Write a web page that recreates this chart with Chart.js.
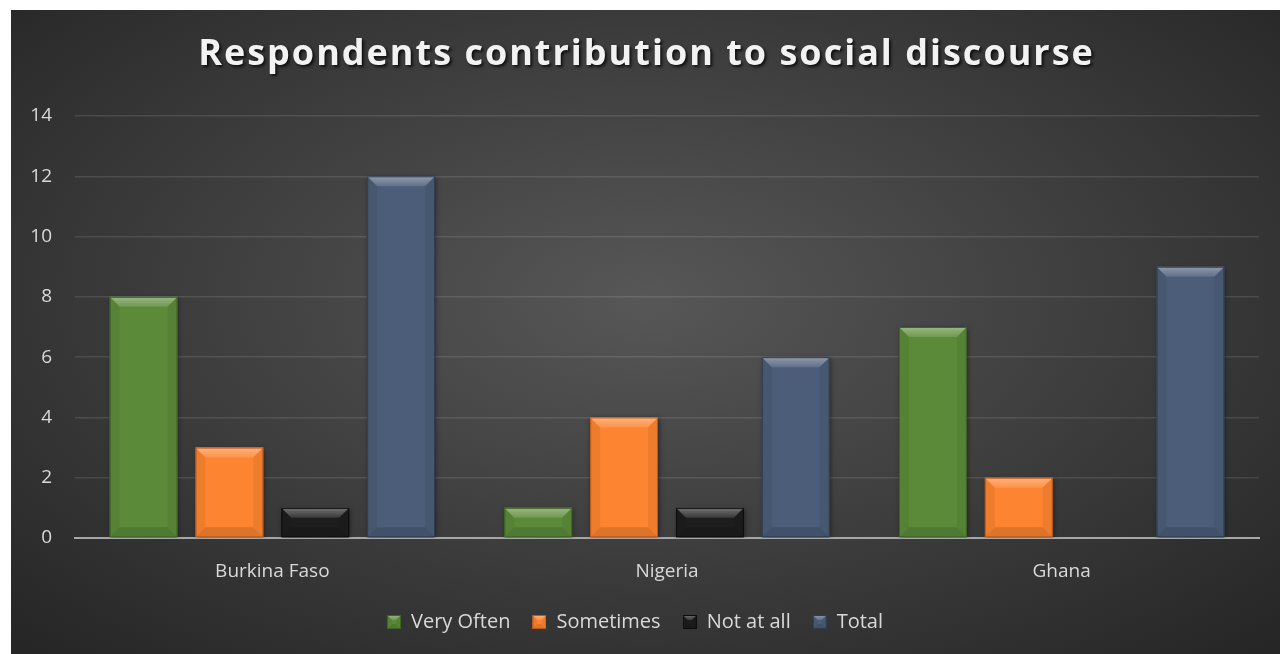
<!DOCTYPE html>
<html>
<head>
<meta charset="utf-8">
<script src="https://cdn.jsdelivr.net/npm/chart.js@4.4.1/dist/chart.umd.min.js"></script>
<style>
  html, body { margin: 0; padding: 0; background: #fff; }
  #wrap {
    position: absolute; left: 11px; top: 10px; width: 1269px; height: 644px;
    background: radial-gradient(ellipse 70% 75% at 50% 45%, #575757 0%, #3c3c3c 55%, #262626 100%);
  }
</style>
</head>
<body>
<div id="wrap"><canvas id="chart"></canvas></div>
<script>
const chartTitle = 'Respondents contribution to social discourse';
const countries = ['Burkina Faso', 'Nigeria', 'Ghana'];
const seriesNames = ['Very Often', 'Sometimes', 'Not at all', 'Total'];
const veryOften = [8, 1, 7];
const sometimes = [3, 4, 2];
const notAtAll = [1, 1, 0];
const totals = [12, 6, 9];
const yTicks = [0, 2, 4, 6, 8, 10, 12, 14];

const fills = ['#5b8b38', '#fd8430', '#1d1d1d', '#4b5d78'];
const edges = ['#3e6425', '#b85a1c', '#0c0c0c', '#2f3d52'];

// shared bevel shape: lighter top, darker bottom and sides
function drawBevel(ctx, l, t, w, h, bv, edge) {
  const r = l + w, b = t + h;
  const g = ctx.createLinearGradient(0, t, 0, t + bv);
  g.addColorStop(0, 'rgba(255,255,255,0.38)');
  g.addColorStop(1, 'rgba(255,255,255,0.12)');
  ctx.fillStyle = g;
  ctx.beginPath();
  ctx.moveTo(l, t); ctx.lineTo(r, t); ctx.lineTo(r - bv, t + bv); ctx.lineTo(l + bv, t + bv);
  ctx.closePath(); ctx.fill();
  ctx.fillStyle = 'rgba(0,0,0,0.12)';
  ctx.beginPath();
  ctx.moveTo(l, b); ctx.lineTo(r, b); ctx.lineTo(r - bv, b - bv); ctx.lineTo(l + bv, b - bv);
  ctx.closePath(); ctx.fill();
  ctx.fillStyle = 'rgba(0,0,0,0.06)';
  ctx.beginPath();
  ctx.moveTo(l, t); ctx.lineTo(l + bv, t + bv); ctx.lineTo(l + bv, b - bv); ctx.lineTo(l, b);
  ctx.closePath(); ctx.fill();
  ctx.beginPath();
  ctx.moveTo(r, t); ctx.lineTo(r - bv, t + bv); ctx.lineTo(r - bv, b - bv); ctx.lineTo(r, b);
  ctx.closePath(); ctx.fill();
  ctx.strokeStyle = edge;
  ctx.lineWidth = 1;
  ctx.strokeRect(l + 0.5, t + 0.5, w - 1, h - 1);
}

// small bevelled squares for the legend
const legendIcons = fills.map((c, i) => {
  const cv = document.createElement('canvas');
  cv.width = 14; cv.height = 14;
  const c2 = cv.getContext('2d');
  c2.fillStyle = c;
  c2.fillRect(0, 0, 14, 14);
  drawBevel(c2, 0, 0, 14, 14, 5, edges[i]);
  return cv;
});

// draws the title with letter spacing and a soft shadow
const titlePlugin = {
  id: 'spacedTitle',
  afterDraw(chart) {
    const ctx = chart.ctx;
    ctx.save();
    ctx.font = 'bold 36px "Open Sans"';
    ctx.letterSpacing = '2px';
    ctx.textAlign = 'center';
    ctx.textBaseline = 'middle';
    ctx.shadowColor = 'rgba(0,0,0,0.75)';
    ctx.shadowOffsetX = 2;
    ctx.shadowOffsetY = 2;
    ctx.shadowBlur = 3;
    ctx.fillStyle = '#f2f2f2';
    ctx.fillText(chartTitle, chart.width / 2 + 1, 45);
    ctx.restore();
  }
};

// bevel shading on each bar
const bevelPlugin = {
  id: 'bevel',
  afterDatasetsDraw(chart) {
    const ctx = chart.ctx;
    chart.data.datasets.forEach((ds, i) => {
      const meta = chart.getDatasetMeta(i);
      meta.data.forEach(bar => {
        const { x, y, base, width } = bar.getProps(['x', 'y', 'base', 'width'], true);
        const h = base - y;
        if (h <= 0) return;
        ctx.save();
        drawBevel(ctx, x - width / 2, y, width, h, Math.min(10, h / 2), edges[i]);
        ctx.restore();
      });
    });
  }
};

// soft drop shadow behind the bars
const shadowPlugin = {
  id: 'barShadow',
  beforeDatasetsDraw(chart) {
    const ctx = chart.ctx;
    ctx.save();
    ctx.shadowColor = 'rgba(0,0,0,0.5)';
    ctx.shadowBlur = 5;
    ctx.shadowOffsetX = 1;
    ctx.shadowOffsetY = 1;
  },
  afterDatasetsDraw(chart) {
    chart.ctx.restore();
  }
};

const seriesData = [veryOften, sometimes, notAtAll, totals];

const ctx = document.getElementById('chart').getContext('2d');
const chart = new Chart(ctx, {
  type: 'bar',
  data: {
    labels: countries,
    datasets: seriesNames.map((name, i) => ({
      label: name,
      data: seriesData[i],
      backgroundColor: fills[i],
      borderWidth: 0,
      categoryPercentage: 0.87,
      barPercentage: 0.79
    }))
  },
  plugins: [shadowPlugin, bevelPlugin, titlePlugin],
  options: {
    responsive: true,
    maintainAspectRatio: false,
    animation: false,
    layout: { padding: { top: 106, left: 0, right: 21, bottom: 12 } },
    plugins: {
      title: { display: false },
      tooltip: { enabled: false },
      legend: {
        position: 'bottom',
        labels: {
          color: '#d9d9d9',
          font: { family: '"Open Sans"', size: 20 },
          usePointStyle: true,
          boxWidth: 14,
          boxHeight: 14,
          padding: 22,
          generateLabels(chart) {
            return chart.data.datasets.map((ds, i) => ({
              text: ds.label,
              fillStyle: fills[i],
              strokeStyle: edges[i],
              pointStyle: legendIcons[i],
              lineWidth: 0,
              fontColor: '#d9d9d9',
              datasetIndex: i
            }));
          }
        }
      }
    },
    scales: {
      x: {
        afterFit(scale) { scale.height = 52; },
        grid: { display: false, drawTicks: false },
        border: { color: '#a6a6a6', width: 2 },
        ticks: { color: '#d9d9d9', font: { family: '"Open Sans"', size: 19 }, padding: 22 }
      },
      y: {
        min: 0,
        max: 14,
        afterFit(scale) { scale.width = 64; },
        afterBuildTicks(axis) { axis.ticks = yTicks.map(v => ({ value: v })); },
        grid: { color: 'rgba(255,255,255,0.11)', lineWidth: 1.5, drawTicks: false },
        border: { display: false },
        ticks: { color: '#d9d9d9', font: { family: '"Open Sans"', size: 19 }, padding: 23 }
      }
    }
  }
});
</script>
</body>
</html>
